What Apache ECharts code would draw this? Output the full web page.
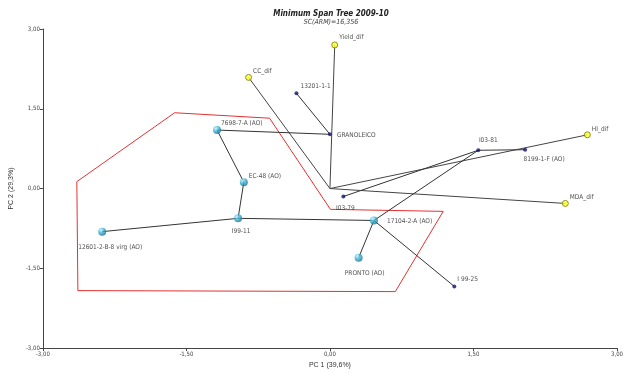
<!DOCTYPE html>
<html>
<head>
<meta charset="utf-8">
<script src="https://cdn.jsdelivr.net/npm/echarts@6/dist/echarts.min.js"></script>
<style>
  html, body { margin: 0; padding: 0; background: #fff; }
  #main { width: 628px; height: 374px; }
</style>
</head>
<body>
<div id="main"></div>
<script>
// variables (yellow vectors from origin)
const varNames = ['Yield_dif', 'CC_dif', 'HI_dif', 'MDA_dif'];
const varX = [0.05, -0.85, 2.69, 2.46];
const varY = [2.70, 2.09, 1.01, -0.28];

// genotypes drawn as cyan balls
const aoNames = ['7698-7-A (AO)', 'EC-48 (AO)', 'I99-11', '12601-2-B-8 virg (AO)', '17104-2-A (AO)', 'PRONTO (AO)'];
const aoX = [-1.18, -0.90, -0.96, -2.38, 0.46, 0.30];
const aoY = [1.10, 0.12, -0.56, -0.81, -0.60, -1.30];

// other genotypes (small navy dots)
const dotNames = ['13201-1-1', 'GRANOLEICO', 'I03-81', '8199-1-F (AO)', 'I03-79', 'I 99-25'];
const dotX = [-0.35, 0.00, 1.55, 2.04, 0.14, 1.30];
const dotY = [1.79, 1.02, 0.72, 0.73, -0.15, -1.84];

// minimum span tree edges
const edges = [
  ['13201-1-1', 'GRANOLEICO'],
  ['7698-7-A (AO)', 'GRANOLEICO'],
  ['7698-7-A (AO)', 'EC-48 (AO)'],
  ['EC-48 (AO)', 'I99-11'],
  ['I99-11', '12601-2-B-8 virg (AO)'],
  ['I99-11', '17104-2-A (AO)'],
  ['17104-2-A (AO)', 'PRONTO (AO)'],
  ['17104-2-A (AO)', 'I 99-25'],
  ['17104-2-A (AO)', 'I03-81'],
  ['I03-81', '8199-1-F (AO)'],
  ['I03-81', 'I03-79']
];

// red cluster outline
const hullX = [-2.645, -1.623, -0.631, 0.005, 1.184, 0.683, -2.634];
const hullY = [0.13, 1.425, 1.323, -0.391, -0.429, -1.938, -1.919];

const pos = {};
aoNames.forEach((n, i) => pos[n] = [aoX[i], aoY[i]]);
dotNames.forEach((n, i) => pos[n] = [dotX[i], dotY[i]]);

const narrow = '"Liberation Sans Narrow", "DejaVu Sans Condensed", "Liberation Sans", sans-serif';

const labelSpot = {
  'Yield_dif': { position: 'right', offset: [-2, -8] },
  'CC_dif': { position: 'right', offset: [-2, -6] },
  'HI_dif': { position: 'right', offset: [-2, -6] },
  'MDA_dif': { position: 'right', offset: [-2, -6] },
  '13201-1-1': { position: 'right', offset: [-1, -7] },
  'GRANOLEICO': { position: 'right', offset: [2, 1] },
  'I03-81': { position: 'top', offset: [10, -1] },
  '8199-1-F (AO)': { position: 'bottom', offset: [19, 1] },
  'I03-79': { position: 'bottom', offset: [2, 3] },
  'I 99-25': { position: 'right', offset: [-2, -7] },
  '7698-7-A (AO)': { position: 'right', offset: [-3, -7] },
  'EC-48 (AO)': { position: 'right', offset: [-2, -6] },
  'I99-11': { position: 'bottom', offset: [3, 2] },
  '12601-2-B-8 virg (AO)': { position: 'bottom', offset: [8, 5] },
  '17104-2-A (AO)': { position: 'right', offset: [6, 1] },
  'PRONTO (AO)': { position: 'bottom', offset: [6, 5] }
};

const labelText = { fontSize: 6.5, color: '#222', fontFamily: narrow };

function withLabel(name, value) {
  const s = labelSpot[name];
  return {
    name: name,
    value: value,
    label: Object.assign({ show: true, formatter: name, distance: 3 }, labelText, s)
  };
}

const edgeData = edges.map(e => ({ coords: [pos[e[0]], pos[e[1]]] }));
const vectorData = varNames.map((n, i) => ({ coords: [[0, 0], [varX[i], varY[i]]] }));
const hullData = hullX.map((x, i) => [x, hullY[i]]);
hullData.push([hullX[0], hullY[0]]);

const fmt = v => v.toFixed(2).replace('.', ',');

const chart = echarts.init(document.getElementById('main'));
chart.setOption({
  animation: false,
  title: {
    text: 'Minimum Span Tree 2009-10',
    subtext: 'SC(ARM)=16,356',
    left: 326,
    top: 5,
    textAlign: 'center',
    itemGap: 1,
    textStyle: { fontSize: 8, fontStyle: 'italic', fontWeight: 'bold', color: '#222', fontFamily: narrow },
    subtextStyle: { fontSize: 7, fontStyle: 'italic', color: '#444', fontFamily: narrow }
  },
  grid: { left: 42, right: 11, top: 29, bottom: 23 },
  xAxis: {
    type: 'value', min: -3, max: 3, interval: 1.5,
    name: 'PC 1 (39,6%)', nameLocation: 'middle', nameGap: 13,
    nameTextStyle: { fontSize: 7, color: '#333', fontFamily: 'Liberation Sans, Arial, sans-serif' },
    axisLine: { onZero: false, lineStyle: { color: '#444', width: 1 } },
    axisTick: { show: true, length: 3, lineStyle: { color: '#444' } },
    axisLabel: { fontSize: 6, color: '#444', margin: 3, formatter: fmt, fontFamily: narrow },
    splitLine: { show: false }
  },
  yAxis: {
    type: 'value', min: -3, max: 3, interval: 1.5,
    name: 'PC 2 (29,3%)', nameLocation: 'middle', nameGap: 23, nameRotate: 90,
    nameTextStyle: { fontSize: 7, color: '#333', fontFamily: 'Liberation Sans, Arial, sans-serif' },
    axisLine: { show: true, onZero: false, lineStyle: { color: '#444', width: 1 } },
    axisTick: { show: true, length: 3, lineStyle: { color: '#444' } },
    axisLabel: { fontSize: 6, color: '#444', margin: 3, formatter: fmt, fontFamily: narrow },
    splitLine: { show: false }
  },
  series: [
    {
      type: 'line', data: hullData, symbol: 'none', silent: true, z: 1,
      lineStyle: { color: '#e53030', width: 1 }
    },
    {
      type: 'lines', coordinateSystem: 'cartesian2d', data: vectorData, z: 2,
      lineStyle: { color: '#444', width: 1, opacity: 1 }
    },
    {
      type: 'lines', coordinateSystem: 'cartesian2d', data: edgeData, z: 2,
      lineStyle: { color: '#333', width: 1, opacity: 1 }
    },
    {
      type: 'scatter', z: 5, symbolSize: 6,
      itemStyle: { color: '#ffff33', borderColor: '#777700', borderWidth: 1 },
      data: varNames.map((n, i) => withLabel(n, [varX[i], varY[i]]))
    },
    {
      type: 'scatter', z: 5, symbolSize: 4,
      itemStyle: { color: '#14146e' },
      data: dotNames.map((n, i) => withLabel(n, [dotX[i], dotY[i]]))
    },
    {
      type: 'scatter', z: 5, symbolSize: 8,
      itemStyle: {
        color: new echarts.graphic.RadialGradient(0.35, 0.3, 0.75, [
          { offset: 0, color: '#c8f0ff' },
          { offset: 0.5, color: '#35aed3' },
          { offset: 1, color: '#17708e' }
        ])
      },
      data: aoNames.map((n, i) => withLabel(n, [aoX[i], aoY[i]]))
    }
  ]
});
</script>
</body>
</html>
